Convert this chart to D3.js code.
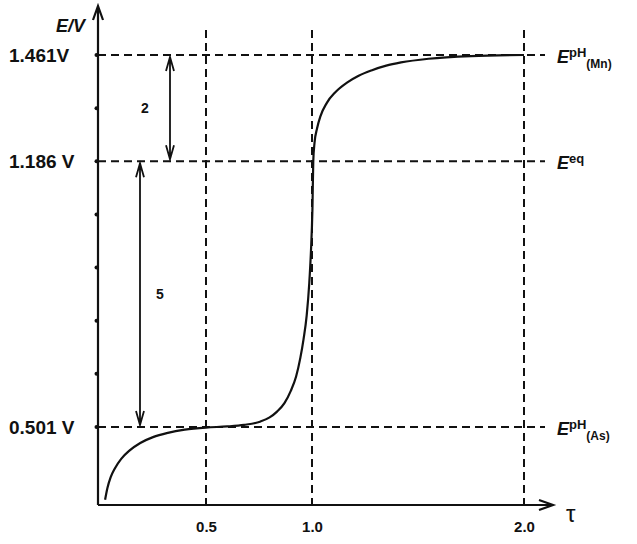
<!DOCTYPE html>
<html>
<head>
<meta charset="utf-8">
<script src="https://cdn.jsdelivr.net/npm/d3@7"></script>
<style>
  body { margin: 0; background: #fff; }
  text { font-family: 'Liberation Sans', Arial, sans-serif; fill: #111; }
</style>
</head>
<body>
<script>
// titration curve, tau vs level (level = count of axis dots above the 0.501 V line)
const curveTau = [0.024, 0.035, 0.05, 0.07, 0.1, 0.14, 0.19, 0.25, 0.32, 0.4, 0.5, 0.6, 0.68, 0.755, 0.8, 0.835, 0.87, 0.9, 0.925, 0.945, 0.96, 0.975, 0.987, 0.995, 1.002, 1.006, 1.012, 1.024, 1.04, 1.07, 1.11, 1.165, 1.22, 1.28, 1.35, 1.42, 1.55, 1.75, 2.0];
const curveLevel = [-1.37, -1.15, -0.95, -0.78, -0.6, -0.44, -0.3, -0.19, -0.11, -0.05, -0.01, 0.01, 0.04, 0.1, 0.18, 0.29, 0.45, 0.68, 0.95, 1.3, 1.65, 2.1, 2.7, 3.3, 4.1, 5.0, 5.35, 5.62, 5.85, 6.1, 6.3, 6.48, 6.61, 6.71, 6.8, 6.86, 6.93, 6.98, 7.0];

const dotLevels = [0, 1, 2, 3, 4, 5, 6, 7];
const potLevels = [7, 5, 0];
const potLabels = ['1.461V', '1.186 V', '0.501 V'];
const potNames = [['pH', '(Mn)'], ['eq', ''], ['pH', '(As)']];
const tauTicks = [0.5, 1.0, 2.0];

const width = 637;
const height = 544;

const svg = d3.select('body').append('svg').attr('width', width).attr('height', height);

const x = d3.scaleLinear().domain([0, 2]).range([100, 524]);
const y = d3.scaleLinear().domain([0, 7]).range([427, 55]);

const axisX = 98;
const axisY = 505;

// dashed guides
const dash = '8,5';
svg.selectAll('.hguide')
  .data(potLevels)
  .enter()
  .append('line')
  .attr('x1', axisX)
  .attr('x2', 545)
  .attr('y1', (d) => y(d))
  .attr('y2', (d) => y(d))
  .attr('stroke', '#111')
  .attr('stroke-width', 2)
  .attr('stroke-dasharray', dash);

svg.selectAll('.vguide')
  .data(tauTicks)
  .enter()
  .append('line')
  .attr('x1', (d) => x(d))
  .attr('x2', (d) => x(d))
  .attr('y1', 30)
  .attr('y2', axisY)
  .attr('stroke', '#111')
  .attr('stroke-width', 2)
  .attr('stroke-dasharray', dash);

// axes
const axes = svg.append('g').attr('stroke', '#111').attr('stroke-width', 2.2).attr('fill', 'none');
axes.append('path').attr('d', `M${axisX},${axisY}V6M${axisX - 5},20L${axisX},6L${axisX + 5},20`);
axes.append('path').attr('d', `M${axisX},${axisY}H553M539,${axisY - 5}L553,${axisY}L539,${axisY + 5}`);

svg.selectAll('.dot')
  .data(dotLevels)
  .enter()
  .append('circle')
  .attr('cx', axisX - 1.5)
  .attr('cy', (d) => y(d))
  .attr('r', 2)
  .attr('fill', '#111');

// tau tick labels
const xAxis = d3.axisBottom(x).tickValues(tauTicks).tickSize(0).tickFormat(d3.format('.1f'));
const gx = svg.append('g').attr('transform', `translate(0,${axisY + 13})`).call(xAxis);
gx.select('.domain').remove();
gx.selectAll('text')
  .style('font-family', "'Liberation Sans', Arial, sans-serif")
  .style('font-weight', 'bold')
  .style('font-size', '15px')
  .attr('fill', '#111');

svg.append('text').attr('x', 566).attr('y', 522).style('font-size', '24px').text('τ');

// axis title
svg.append('text')
  .attr('x', 56)
  .attr('y', 32)
  .style('font-size', '18px')
  .style('font-weight', 'bold')
  .style('font-style', 'italic')
  .text('E/V');

// potential labels on the left
svg.selectAll('.pot')
  .data(potLevels)
  .enter()
  .append('text')
  .attr('x', 9)
  .attr('y', (d) => y(d) + 7)
  .style('font-size', '19px')
  .style('font-weight', 'bold')
  .text((d, i) => potLabels[i]);

// names on the right
potLevels.forEach((lv, i) => {
  const t = svg.append('text')
    .attr('x', 557)
    .attr('y', y(lv) + 8)
    .style('font-weight', 'bold');
  t.append('tspan').style('font-size', '18px').style('font-style', 'italic').text('E');
  t.append('tspan').attr('dy', -6).style('font-size', '13px').text(potNames[i][0]);
  if (potNames[i][1]) {
    t.append('tspan').attr('dy', 11).style('font-size', '12px').text(potNames[i][1]);
  }
});

// double arrows
const arrows = [
  { xp: 170, from: 7, to: 5, label: '2', lx: 145 },
  { xp: 140, from: 5, to: 0, label: '5', lx: 160 }
];
arrows.forEach((a) => {
  const y1 = y(a.from) + 2;
  const y2 = y(a.to) - 2;
  svg.append('path')
    .attr('d', `M${a.xp},${y1}V${y2}M${a.xp - 4},${y1 + 14}L${a.xp},${y1}L${a.xp + 4},${y1 + 14}M${a.xp - 4},${y2 - 14}L${a.xp},${y2}L${a.xp + 4},${y2 - 14}`)
    .attr('fill', 'none')
    .attr('stroke', '#111')
    .attr('stroke-width', 1.8);
  svg.append('text')
    .attr('x', a.lx)
    .attr('y', (y1 + y2) / 2 + 5)
    .attr('text-anchor', 'middle')
    .style('font-size', '14px')
    .style('font-weight', 'bold')
    .text(a.label);
});

// the curve
const line = d3.line()
  .x((d, i) => x(curveTau[i]))
  .y((d, i) => y(curveLevel[i]))
  .curve(d3.curveMonotoneX);

svg.append('path')
  .attr('d', line(curveTau))
  .attr('fill', 'none')
  .attr('stroke', '#111')
  .attr('stroke-width', 2.2);
</script>
</body>
</html>
